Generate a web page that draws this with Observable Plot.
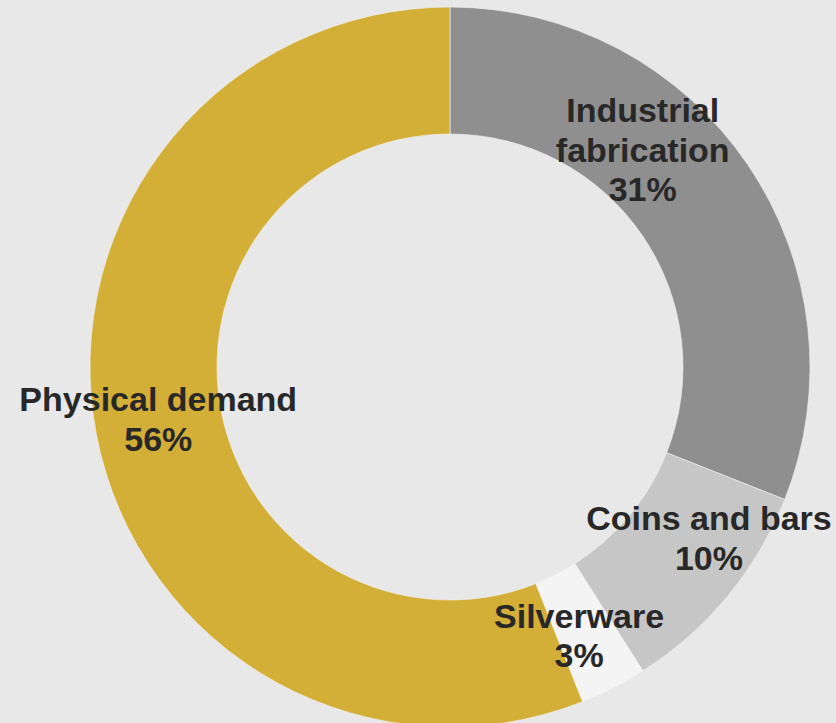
<!DOCTYPE html>
<html>
<head>
<meta charset="utf-8">
<script src="https://cdn.jsdelivr.net/npm/d3@7"></script>
<script src="https://cdn.jsdelivr.net/npm/@observablehq/plot@0.6"></script>
<style>
  html, body { margin: 0; padding: 0; background: #e8e8e8; }
  #chart svg { display: block; background: #e8e8e8; }
</style>
</head>
<body>
<div id="chart"></div>
<script>
// ---- data ----
const categories = ["Industrial fabrication", "Coins and bars", "Silverware", "Physical demand"];
const labelLines = ["Industrial\nfabrication", "Coins and bars", "Silverware", "Physical demand"];
const shares = [31, 10, 3, 56];
const colors = ["#8f8f8f", "#c6c6c6", "#f4f4f4", "#d4af37"];
// label nudges in pixels (layout only)
const labelNudge = [[-53, -52], [30, -19], [-6, 3], [-1, -5]];

const W = 836, H = 723;
const R = 360, innerRatio = 233 / 360;
const cx = 450, cy = 367;

const rows = categories.map((c, i) => ({category: c, label: labelLines[i], value: shares[i], color: colors[i]}));
const pie = d3.pie().sort(null).value(d => d.value)(rows);
const slices = pie.map(p => ({...p.data, startAngle: p.startAngle, endAngle: p.endAngle, mid: (p.startAngle + p.endAngle) / 2}));
const midR = (1 + innerRatio) / 2;

function donut(index, scales) {
  const sx = scales.x, sy = scales.y;
  const x0 = sx(0), y0 = sy(0);
  const rPx = sx(1) - sx(0);
  const arc = d3.arc().innerRadius(rPx * innerRatio).outerRadius(rPx);
  const g = d3.create("svg:g").attr("transform", `translate(${x0},${y0})`);
  g.selectAll("path").data(slices).join("path")
    .attr("d", d => arc(d))
    .attr("fill", d => d.color)
    .attr("stroke", "#f2f2f2")
    .attr("stroke-width", 0.6);
  return g.node();
}

const textMarks = slices.map((s, i) => Plot.text([s], {
  x: d => midR * Math.sin(d.mid),
  y: d => midR * Math.cos(d.mid),
  text: d => d.label + "\n" + d.value + "%",
  dx: labelNudge[i][0],
  dy: labelNudge[i][1],
  fontSize: 34,
  fontWeight: "bold",
  fontFamily: "Liberation Sans, Arial, sans-serif",
  fill: "#282828",
  lineHeight: 1.17,
  textAnchor: "middle"
}));

const chart = Plot.plot({
  width: W,
  height: H,
  margin: 0,
  style: {background: "#e8e8e8"},
  x: {domain: [-cx / R, (W - cx) / R], axis: null},
  y: {domain: [-(H - cy) / R, cy / R], axis: null},
  marks: [donut, ...textMarks]
});
document.getElementById("chart").appendChild(chart);
</script>
</body>
</html>
